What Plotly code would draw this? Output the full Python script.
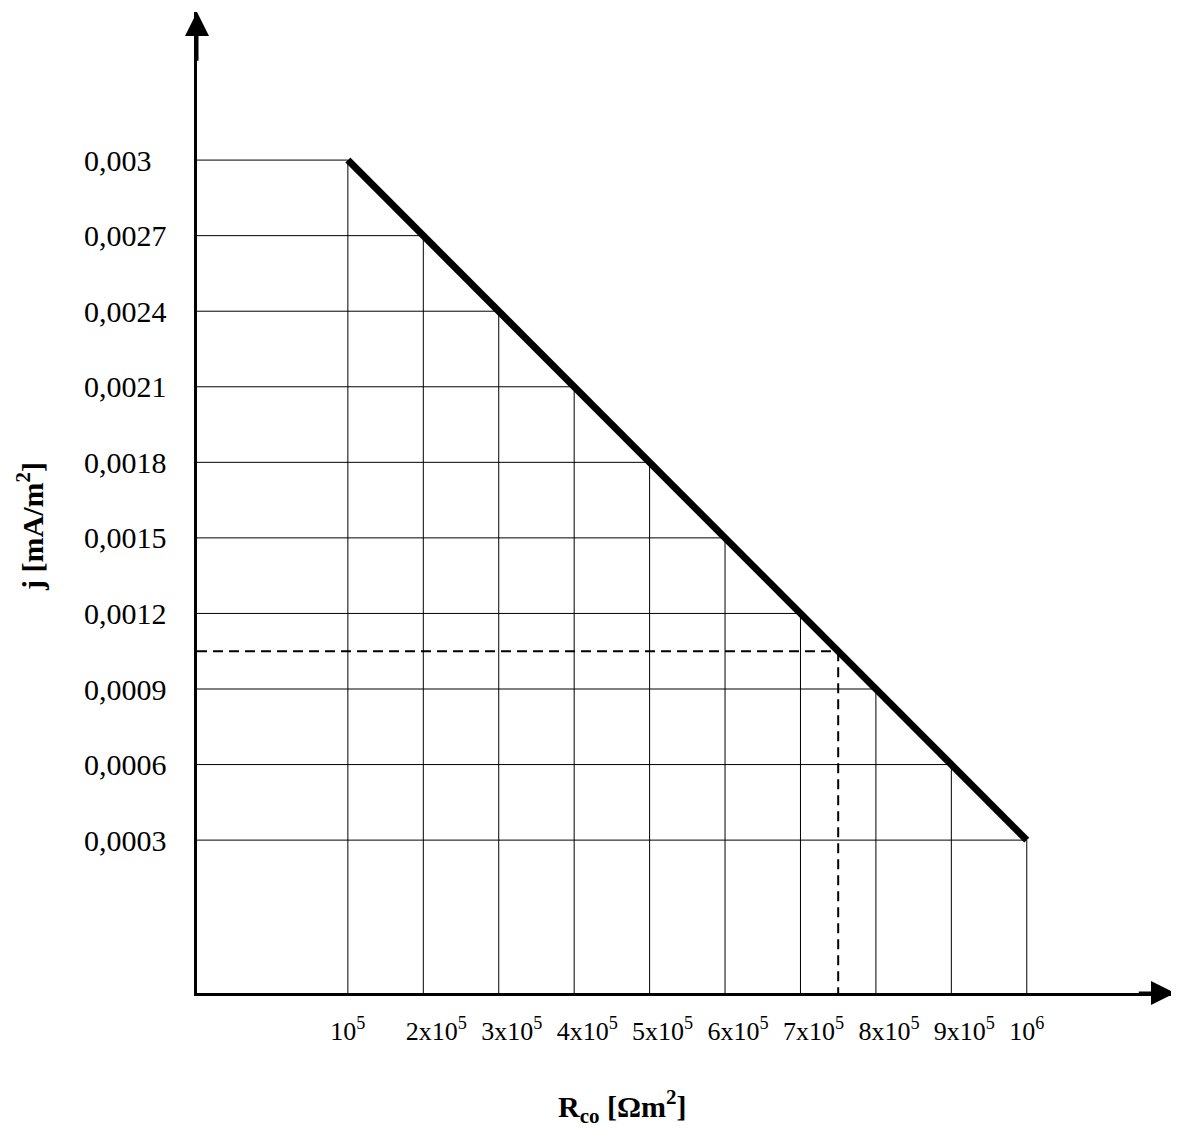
import numpy as np
import plotly.graph_objects as go

# ---- data ----
line_R = [1e5, 1e6]                 # Rco [Ohm m2]
line_j = [0.003, 0.0003]            # j [mA/m2]
x_tickvals = [1e5, 2e5, 3e5, 4e5, 5e5, 6e5, 7e5, 8e5, 9e5, 1e6]
x_ticktext = ["10<sup>5</sup>", "2x10<sup>5</sup>", "3x10<sup>5</sup>", "4x10<sup>5</sup>",
              "5x10<sup>5</sup>", "6x10<sup>5</sup>", "7x10<sup>5</sup>", "8x10<sup>5</sup>",
              "9x10<sup>5</sup>", "10<sup>6</sup>"]
y_tickvals = [0.0003, 0.0006, 0.0009, 0.0012, 0.0015, 0.0018, 0.0021, 0.0024, 0.0027, 0.003]
y_ticktext = ["0,0003", "0,0006", "0,0009", "0,0012", "0,0015", "0,0018", "0,0021",
              "0,0024", "0,0027", "0,003"]
marked_R = 7.5e5                    # dashed read-off point

x_range = [-1.0e5, 1.1965e6]
y_range = [-0.000307, 0.003588]

# intersection helpers (line is decreasing in j)
def j_of_R(r):
    return float(np.interp(r, line_R, line_j))

def R_of_j(j):
    return float(np.interp(j, line_j[::-1], line_R[::-1]))

# grid segments bounded by the line
gx, gy = [], []
for v in y_tickvals:
    gx += [x_range[0], R_of_j(v), None]
    gy += [v, v, None]
for r in x_tickvals:
    gx += [r, r, None]
    gy += [y_range[0], j_of_R(r), None]

marked_j = j_of_R(marked_R)

FONT = "Liberation Serif, Times New Roman, serif"
OFF = 8                              # page body margin
W, H = 1179 - OFF, 1129 - OFF
ML, MR, MT, MB = 32, 4, 4, H - (993 - OFF)
PW = W - ML - MR
PH = H - MT - MB

def px(xpage):
    return (xpage - OFF - ML) / PW

def py(ypage):
    return (H - MB - (ypage - OFF)) / PH

x0_dom = px(197)

fig = go.Figure()
fig.add_trace(go.Scatter(x=gx, y=gy, mode="lines", line=dict(color="black", width=1),
                         hoverinfo="skip", showlegend=False))
fig.add_trace(go.Scatter(x=[x_range[0], marked_R, None, marked_R, marked_R],
                         y=[marked_j, marked_j, None, marked_j, y_range[0]],
                         mode="lines", line=dict(color="black", width=2, dash="10px,6px"),
                         hoverinfo="skip", showlegend=False, yaxis="y2"))
fig.add_trace(go.Scatter(x=line_R, y=line_j, mode="lines", line=dict(color="black", width=7),
                         hoverinfo="skip", showlegend=False))

fig.update_layout(
    width=W, height=H,
    margin=dict(l=ML, r=MR, t=MT, b=MB, autoexpand=False),
    paper_bgcolor="white", plot_bgcolor="white",
    font=dict(family=FONT, color="black"),
    xaxis=dict(domain=[x0_dom, 1], range=x_range, showgrid=False, zeroline=False,
               automargin=False,
               showline=True, linecolor="black", linewidth=3,
               tickmode="array", tickvals=x_tickvals, ticktext=x_ticktext,
               ticks="", tickfont=dict(size=26, family=FONT),
               ticklabelposition="outside right", ticklabelshift=-19,
               ticklabelstandoff=13),
    yaxis=dict(range=y_range, anchor="free", position=px(83), side="right",
               automargin=False,
               showgrid=False, zeroline=False, showline=False,
               tickmode="array", tickvals=y_tickvals, ticktext=y_ticktext,
               ticks="", tickfont=dict(size=30, family=FONT), ticklabelstandoff=0),
    yaxis2=dict(range=y_range, overlaying="y", anchor="x", side="left", automargin=False,
                showgrid=False, zeroline=False, showline=True, linecolor="black",
                linewidth=3, showticklabels=False, ticks=""),
    annotations=[
        dict(x=x_range[0], y=y_range[1], ax=x_range[0], ay=y_range[1] - 0.0002,
             xref="x", yref="y", axref="x", ayref="y", text="", showarrow=True,
             arrowhead=2, arrowsize=1.6, arrowwidth=3, arrowcolor="black"),
        dict(x=x_range[1], y=y_range[0], ax=x_range[1] - 0.5e5, ay=y_range[0],
             xref="x", yref="y", axref="x", ayref="y", text="", showarrow=True,
             arrowhead=2, arrowsize=1.6, arrowwidth=3, arrowcolor="black"),
        dict(x=px(622), y=py(1106), xref="paper", yref="paper",
             text="<b>R<sub>co</sub> [Ωm<sup>2</sup>]</b>", showarrow=False,
             font=dict(size=30, family=FONT), xanchor="center", yanchor="middle"),
        dict(x=px(30), y=py(527), xref="paper", yref="paper",
             text="<b>j [mA/m<sup>2</sup>]</b>", showarrow=False, textangle=-90,
             font=dict(size=30, family=FONT), xanchor="center", yanchor="middle"),
    ],
)

fig.write_html("out.html")
